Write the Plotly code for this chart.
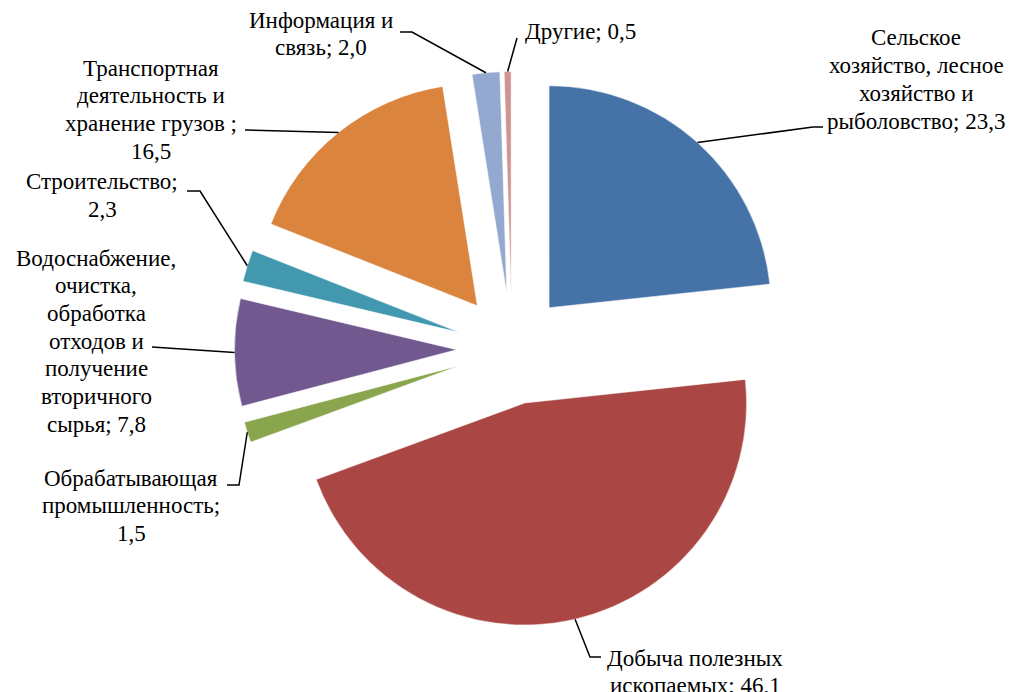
import math
import plotly.graph_objects as go

# ---- data ----
categories = [
    "Сельское хозяйство, лесное хозяйство и рыболовство",
    "Добыча полезных ископаемых",
    "Обрабатывающая промышленность",
    "Водоснабжение, очистка, обработка отходов и получение вторичного сырья",
    "Строительство",
    "Транспортная деятельность и хранение грузов",
    "Информация и связь",
    "Другие",
]
values = [23.3, 46.1, 1.5, 7.8, 2.3, 16.5, 2.0, 0.5]
label_lines = [
    ["Сельское", "хозяйство, лесное", "хозяйство и", "рыболовство; 23,3"],
    ["Добыча полезных", "ископаемых; 46,1"],
    ["Обрабатывающая", "промышленность;", "1,5"],
    ["Водоснабжение,", "очистка,", "обработка", "отходов и", "получение",
     "вторичного", "сырья; 7,8"],
    ["Строительство;", "2,3"],
    ["Транспортная", "деятельность и", "хранение грузов ;", "16,5"],
    ["Информация и", "связь; 2,0"],
    ["Другие; 0,5"],
]
colors = ["#4572A7", "#AA4643", "#89A54E", "#71588F",
          "#4198AF", "#DB843D", "#93A9CF", "#D19392"]

# ---- layout geometry (screen pixels) ----
W, H = 1017, 692
OFF = 8                     # page body margin
PULL = 0.25
CX, CY = 512.0, 349.0       # pie centre on screen
BOX = 555.0                 # pie box (min dimension)
R = BOX / (2 + 2 * PULL)    # plotly slice radius
LS = 27.7                   # label line spacing
FONT = "Liberation Serif"
FSIZE = 23

def px(x):
    return (x - OFF) / W

def py(y):
    return 1 - (y - OFF) / H

dom_x = [px(CX - 410), px(CX + 410)]
dom_y = [py(CY + BOX / 2), py(CY - BOX / 2)]

# label centre x and first-line centre y (screen pixels)
label_pos = [
    (916, 38),
    (695, 658),
    (131, 478),
    (96, 258),
    (102, 182),
    (151, 68),
    (321, 20),
    (580, 32),
]
elbows = [
    [(813, 127), (823, 127)],
    [(590, 657), (601, 657)],
    [(239, 485), (227, 485)],
    [(152, 347)],
    [(200, 191), (187, 191)],
    [(245, 130)],
    [(412, 32), (400, 32)],
    [(517, 38)],
]

fig = go.Figure(go.Pie(
    labels=categories,
    values=values,
    sort=False,
    direction="clockwise",
    rotation=0,
    pull=[PULL] * len(values),
    marker=dict(colors=colors, line=dict(color="white", width=0.5)),
    textinfo="none",
    hoverinfo="label+value",
    domain=dict(x=dom_x, y=dom_y),
    showlegend=False,
))

# anchors on slice arcs computed from data
total = sum(values)
cum = 0.0
shapes = []
annotations = []
for i, v in enumerate(values):
    mid = (cum + v / 2) / total * 2 * math.pi
    cum += v
    ax = CX + (1 + PULL) * R * math.sin(mid)
    ay = CY - (1 + PULL) * R * math.cos(mid)
    pts = [(ax, ay)] + elbows[i]
    path = "M " + " L ".join(f"{px(x):.5f},{py(y):.5f}" for x, y in pts)
    shapes.append(dict(type="path", path=path, xref="paper", yref="paper",
                       line=dict(color="black", width=1.5)))
    lx, ly = label_pos[i]
    for k, line in enumerate(label_lines[i]):
        annotations.append(dict(
            text=line, x=px(lx), y=py(ly + k * LS), xref="paper", yref="paper",
            xanchor="center", yanchor="middle", align="center", showarrow=False,
            font=dict(family=FONT, size=FSIZE, color="black"),
        ))

fig.update_layout(
    width=W, height=H,
    margin=dict(l=0, r=0, t=0, b=0),
    paper_bgcolor="white",
    plot_bgcolor="white",
    font=dict(family=FONT, size=FSIZE, color="black"),
    shapes=shapes,
    annotations=annotations,
)

fig.write_html("out.html")
